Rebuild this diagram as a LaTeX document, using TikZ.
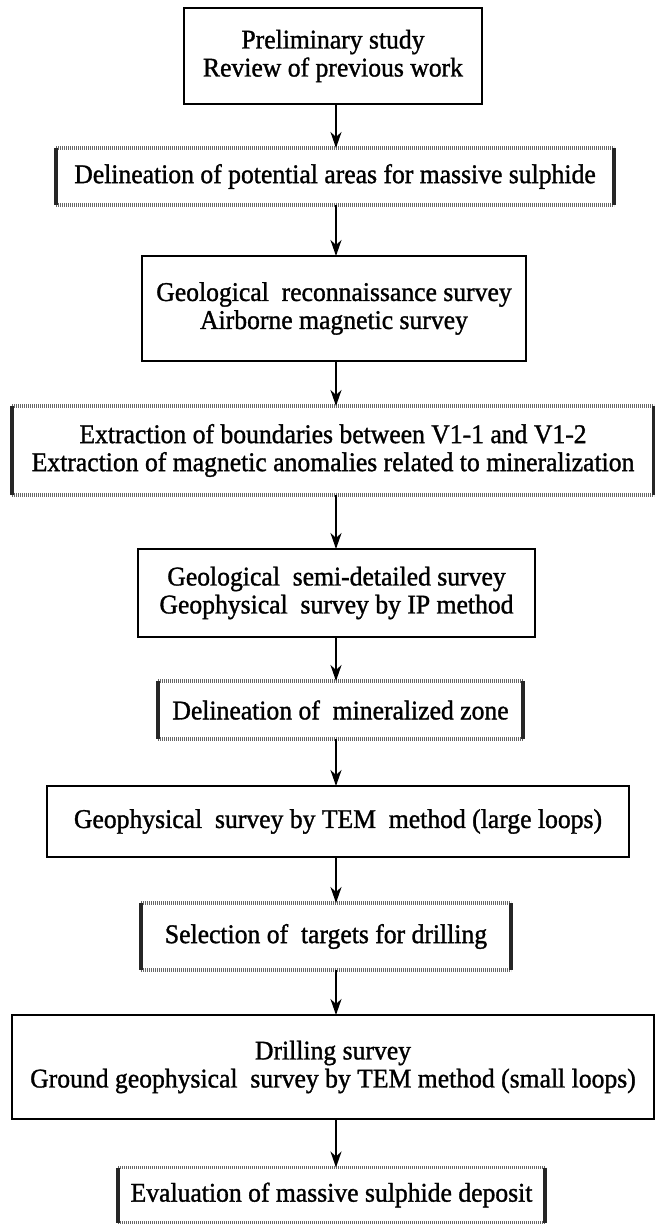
\documentclass[tikz,border=0pt]{standalone}
\usepackage{fontspec}
\setmainfont{Liberation Serif}[UprightFeatures={FakeBold=1.2}, FakeStretch=0.95]
\usetikzlibrary{arrows.meta}
\begin{document}
\begin{tikzpicture}[x=1pt,y=-1pt,
  every node/.style={font=\fontsize{27pt}{28pt}\selectfont, align=center, inner sep=0pt, outer sep=0pt},
  solidbox/.style={draw, line width=1.8pt},
  plainbox/.style={},
  flowarrow/.style={line width=2pt, -{Stealth[length=16pt,width=11pt,inset=5pt]}},
  dotrule/.style={line width=3.5pt, black!60, dash pattern=on 1.2pt off 0.8pt},
  sidebar/.style={line width=3.5pt, black!85}]
\useasboundingbox (0,0) rectangle (655,1225);
\fill[white] (0,0) rectangle (655,1225);
\coordinate (ax) at (336,0);

\node[solidbox, minimum width=298pt, minimum height=96pt] (b1) at (333,56) {Preliminary study\\Review of previous work};
\node[plainbox, minimum width=558pt, minimum height=57pt] (b2) at (335,176.5) {Delineation of potential areas for massive sulphide};
\node[solidbox, minimum width=384pt, minimum height=105pt] (b3) at (334,308.5) {Geological~ reconnaissance survey\\Airborne magnetic survey};
\node[plainbox, minimum width=642pt, minimum height=89pt] (b4) at (333,450.5) {Extraction of boundaries between V1-1 and V1-2\\Extraction of magnetic anomalies related to mineralization};
\node[solidbox, minimum width=397pt, minimum height=88pt] (b5) at (336.5,593) {Geological~ semi-detailed survey\\Geophysical~ survey by IP method};
\node[plainbox, minimum width=365pt, minimum height=58pt] (b6) at (340.5,710) {Delineation of~ mineralized zone};
\node[solidbox, minimum width=582pt, minimum height=71pt] (b7) at (338,821.5) {Geophysical~ survey by TEM~ method (large loops)};
\node[plainbox, minimum width=370pt, minimum height=67pt] (b8) at (326,936.5) {Selection of~ targets for drilling};
\node[solidbox, minimum width=642pt, minimum height=104pt] (b9) at (333,1067) {Drilling survey\\Ground geophysical~ survey by TEM method (small loops)};
\node[plainbox, minimum width=427pt, minimum height=55pt] (b10) at (331.5,1195) {Evaluation of massive sulphide deposit};

\foreach \b in {b2,b4,b6,b8,b10}{
  \draw[dotrule] (\b.north west) -- (\b.north east);
  \draw[dotrule] (\b.south west) -- (\b.south east);
  \draw[sidebar] (\b.north west) -- (\b.south west);
  \draw[sidebar] (\b.north east) -- (\b.south east);
}

\draw[flowarrow] (b1.south -| ax) -- (b2.north -| ax);
\draw[flowarrow] (b2.south -| ax) -- (b3.north -| ax);
\draw[flowarrow] (b3.south -| ax) -- (b4.north -| ax);
\draw[flowarrow] (b4.south -| ax) -- (b5.north -| ax);
\draw[flowarrow] (b5.south -| ax) -- (b6.north -| ax);
\draw[flowarrow] (b6.south -| ax) -- (b7.north -| ax);
\draw[flowarrow] (b7.south -| ax) -- (b8.north -| ax);
\draw[flowarrow] (b8.south -| ax) -- (b9.north -| ax);
\draw[flowarrow] (b9.south -| ax) -- (b10.north -| ax);
\end{tikzpicture}
\end{document}
